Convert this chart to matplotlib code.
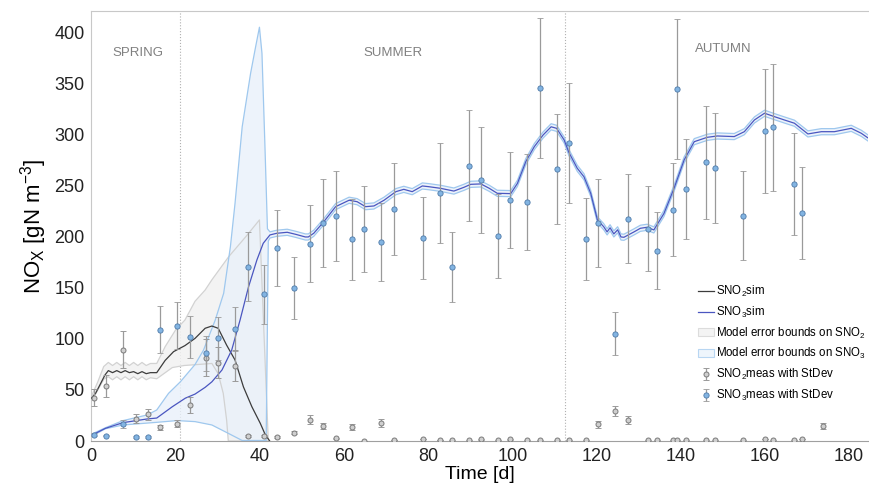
import numpy as np
import matplotlib
matplotlib.use("Agg")
import matplotlib.pyplot as plt  # noqa: E402
from matplotlib.patches import Patch  # noqa: E402

plt.rcParams["font.family"] = ["Liberation Sans", "DejaVu Sans"]
plt.rcParams["mathtext.fontset"] = "custom"
plt.rcParams["mathtext.rm"] = "Liberation Sans"
plt.rcParams["mathtext.it"] = "Liberation Sans"

# --- simulated SNO2 (black line) ---
t_sno2_sim = [0, 1, 2, 3.2, 4, 5, 6, 7, 8, 9, 10, 11, 12, 13, 14, 15.5, 17.5, 19.5,
              22.2, 24.6, 27, 28.6, 30.1, 32.1, 34.1, 36.1, 38.1, 40.1, 41.3, 42.3]
sno2_sim = [42, 47, 55, 64.7, 69, 67, 69, 67, 69, 67, 68, 66, 68, 66, 67, 67, 79, 87.6,
            93.5, 100.6, 110.5, 112.7, 110.5, 94, 79.4, 53, 33.6, 17.3, 6, 0.3]

# model error bounds on SNO2
t_sno2_up = [0, 1.5, 2.9, 4, 5, 6, 7, 8, 9, 10, 11, 12, 13, 14, 15.5, 17.5, 20, 22.2,
             24.6, 27, 28.6, 32.6, 36.6, 39.9, 42]
sno2_up = [44, 58, 73, 77, 74, 77, 74, 77, 74, 77, 74, 77, 74, 76, 76, 92.5, 109, 118.6,
           137, 148, 158, 180.7, 200, 216.7, 0]
t_sno2_lo = [0, 1.5, 3, 4, 5, 6, 7, 8, 9, 10, 11, 12, 13, 14, 15.5, 19.2, 22, 28.6, 30.1,
             31.3, 32.1, 32.5, 42]
sno2_lo = [39, 50, 61, 63, 60, 63, 60, 63, 60, 63, 60, 63, 60, 62, 61, 72, 74, 76, 66,
           46.7, 20.6, 0, 0]

# --- simulated SNO3 (blue line) ---
t_sno3_sim = [0.2, 3.3, 7.5, 13.2, 15.5, 19.2, 22.3, 24.6, 27, 28.6, 31, 33.3, 35.3, 37.3,
              39.3, 40.8, 42.4, 44, 46.5, 48.5, 50.8, 51.5, 52.8, 55.2, 58, 61.2, 63.1,
              65.1, 67.1, 69.5, 72.3, 74.2, 76.2, 78.6, 80.1, 82.9, 86.1, 88.5, 90.1,
              92.5, 94.5, 96.4, 99.6, 101.2, 103.2, 105.2, 107.3, 109.2, 110.5, 112.3,
              113.4, 115.4, 117, 118.6, 120.2, 121.7, 122.5, 123.2, 124.1, 125, 125.8,
              126.5, 128.9, 130.4, 132, 133.6, 136, 138.4, 140.8, 143.2, 146.3, 148.7,
              152.7, 155.1, 157.5, 159.9, 162.2, 164.6, 167, 170.2, 173.4, 176.5, 180.5,
              182.9, 185.2]
sno3_sim = [6, 12.4, 18, 21.6, 22.5, 33.6, 42, 46, 52.6, 58, 69.6, 89, 118.6, 151,
            177.5, 193.8, 202, 203.6, 204.6, 202.6, 200, 200, 203.6, 215, 229.7, 236, 234.6,
            229.7, 230.4, 236, 244.4, 246.7, 244.4, 250, 249.3, 247.7, 245, 248.7, 251.6,
            252, 247.7, 242.8, 242.5, 252.6, 274, 288.5, 300, 308, 306.5, 295,
            283, 267.4, 259, 242.8, 216.7, 210, 205, 209, 203, 207, 200,
            199.7, 205, 208.5, 209.5, 206.9, 223, 247.7, 275.5, 293.4, 297.7, 299,
            298.4, 303.2, 314.7, 321.3, 318, 314.7, 311.5, 301, 303.2, 303.2, 306.5,
            301.6, 295]

# model error bounds on SNO3 (spring part, wide); later the band is narrow
t_sno3_up = [0.2, 3.3, 7.5, 13.2, 15.5, 18.3, 21.1, 24.6, 26.6, 29.4, 31.4, 33, 34.1, 35.8,
             37.8, 39, 39.9, 40.5, 41.2, 41.8]
sno3_up = [7, 13, 20, 25.5, 30.4, 46.7, 58, 75, 89, 118.6, 144.8, 190.5, 233, 308,
           360.5, 386.6, 405.6, 380, 290, 208]
t_sno3_lo = [0.2, 3.3, 7.5, 15.5, 20.3, 24.6, 28.6, 32.5, 35.8, 41.5, 42.0]
sno3_lo = [5, 12, 15.7, 18.3, 20, 19, 15.7, 7.5, 0.5, 0.5, 196]
sno3_band_halfwidth = 3.0

# --- measurements ---
t_meas = [0.5, 3.5, 7.5, 10.5, 13.5, 16.3, 20.4, 23.4, 27.2, 30.1, 34.1, 37.1, 41.0, 44.0,
          48.0, 52.0, 55.0, 58.0, 61.9, 64.8, 68.8, 71.8, 78.7, 82.7, 85.7, 89.6, 92.6,
          96.5, 99.4, 103.5, 106.5, 110.5, 113.4, 117.4, 120.4, 124.4, 127.4, 132.3,
          134.3, 138.2, 139.2, 141.2, 146.1, 148.1, 154.9, 160.0, 162.0, 167.0, 168.9,
          173.7]
sno3_meas = [6, 5, 17, 4, 4, 109, 113, 102, 86, 100.6, 109.5, 171, 144, 189, 150, 193.5,
             214, 220.6, 197.7, 208, 195, 227.5, 198.7, 243, 170.6, 270, 256, 201, 236,
             234.6, 346, 267, 292, 198, 213.4, 105, 218, 208, 186.6, 226.8, 345, 247, 273,
             268, 221, 304, 307.5, 252, 223.5, np.nan]
sno3_sd = [1.5, 0.5, 4, 1, 1, 23, 23, 21, 17, 21, 21.5, 34, 29, 37, 30, 38, 43, 44, 40,
           42, 38, 45, 40, 49, 34, 54, 52, 41, 47, 47, 69, 54, 58.5, 40, 43, 21, 44, 41.5,
           37.5, 45.5, 69, 49, 55, 54, 44, 61, 62, 50, 45, np.nan]
sno2_meas = [42.5, 54, 89.5, 22, 26, 13.4, 17, 35, 81.7, 76.8, 74, 5, 5, 4, 8, 21, 15, 2.6,
             13.4, 0.3, 17.6, 1, 2, 1, 0.5, 0.5, 1.5, 0.5, 1.5, 0.5, 0.5, 0.5, 0.5, 0.5,
             16.3, 29.4, 20.3, 0.5, 0.5, 0.5, 0.5, 0.5, 0.5, 0.5, 0.5, 2, 0.5, 0.5, 2, 14.7]
sno2_sd = [8.5, 10.5, 18, 4, 5, 2.7, 3.6, 8, 18, 15.5, 15, 1, 1, 1, 1.6, 4.4, 3, 0.5, 3,
           0.1, 4, 0.2, 0.4, 0.2, 0.1, 0.1, 0.3, 0.1, 0.3, 0.1, 0.1, 0.1, 0.1, 0.1, 3.3, 5,
           4, 0.1, 0.1, 0.1, 0.1, 0.1, 0.1, 0.1, 0.1, 0.4, 0.1, 0.1, 0.4, 3]

season_bounds = [21, 112.5]
seasons = ["SPRING", "SUMMER", "AUTUMN"]
season_x = [11, 71.7, 150.1]
season_y = [380, 380, 384]

C_NO2 = "#3c3c3c"
C_NO3 = "#4a56c0"
C_NO2_BAND, C_NO2_EDGE = "#f2f2f2", "#d2d2d2"
C_NO3_BAND, C_NO3_EDGE = "#e9f1fa", "#9fc8ee"

fig = plt.figure(figsize=(8.7, 5.0), dpi=100)
ax = fig.add_axes([91.5 / 870, 59 / 500, 777 / 870, 430 / 500])

# SNO2 error band
ax.fill(np.r_[t_sno2_up, t_sno2_lo[::-1]], np.r_[sno2_up, sno2_lo[::-1]],
        color=C_NO2_BAND, alpha=0.85, lw=0, zorder=1)
ax.plot(t_sno2_up, sno2_up, color=C_NO2_EDGE, lw=0.9, zorder=2)
ax.plot(t_sno2_lo, sno2_lo, color=C_NO2_EDGE, lw=0.9, zorder=2)

# SNO3 error band: wide spring part, then narrow band around the simulation
ts3 = np.array(t_sno3_sim)
ys3 = np.array(sno3_sim)
late = ts3 > 42.2
up_t = np.r_[t_sno3_up, ts3[late]]
up_y = np.r_[sno3_up, ys3[late] + sno3_band_halfwidth]
lo_t = np.r_[t_sno3_lo, ts3[late]]
lo_y = np.r_[sno3_lo, ys3[late] - sno3_band_halfwidth]
ax.fill(np.r_[up_t, lo_t[::-1]], np.r_[up_y, lo_y[::-1]],
        color=C_NO3_BAND, alpha=0.8, lw=0, zorder=1)
ax.plot(up_t, up_y, color=C_NO3_EDGE, lw=0.9, zorder=2)
ax.plot(lo_t, lo_y, color=C_NO3_EDGE, lw=0.9, zorder=2)

l2, = ax.plot(t_sno2_sim, sno2_sim, color=C_NO2, lw=0.9, zorder=3)
l3, = ax.plot(t_sno3_sim, sno3_sim, color=C_NO3, lw=0.9, zorder=3)

e2 = ax.errorbar(t_meas, sno2_meas, yerr=sno2_sd, fmt="o", ms=3.6, mfc="#cfcfcf",
                 mec="#7a7a7a", mew=0.7, ecolor="#9a9a9a", elinewidth=0.9,
                 capsize=2.2, capthick=0.8, zorder=4)
e3 = ax.errorbar(t_meas, sno3_meas, yerr=sno3_sd, fmt="o", ms=3.8, mfc="#82b4e2",
                 mec="#4f7aa8", mew=0.6, ecolor="#9a9a9a", elinewidth=0.9,
                 capsize=2.2, capthick=0.8, zorder=5)

for xb in season_bounds:
    ax.axvline(xb, color="#b0b0b0", ls=":", lw=0.8, zorder=0)
for name, sx, sy in zip(seasons, season_x, season_y):
    ax.text(sx, sy, name, ha="center", va="center", fontsize=9.5, color="#808080")

ax.set_xlim(0, 184.6)
ax.set_ylim(0, 421.5)
ax.set_xticks(range(0, 181, 20))
ax.set_yticks(range(0, 401, 50))
ax.tick_params(length=0, labelsize=13, pad=5, labelcolor="#222222")
for side in ("left", "top"):
    ax.spines[side].set_color("#c8c8c8")
ax.spines["bottom"].set_color("#a0a0a0")
ax.spines["right"].set_visible(False)
ax.set_ylabel(r"NO$_\mathregular{X}$ [gN m$^\mathregular{-3}$]", fontsize=16, labelpad=4)
ax.set_xlabel("Time [d]", fontsize=14, labelpad=1)

handles = [l2, l3,
           Patch(facecolor="#f4f4f4", edgecolor="#dcdcdc", lw=0.8),
           Patch(facecolor="#eef5fc", edgecolor="#b8d6f2", lw=0.8),
           e2, e3]
labels = [r"SNO$_2$sim", r"SNO$_3$sim",
          r"Model error bounds on SNO$_2$", r"Model error bounds on SNO$_3$",
          r"SNO$_2$meas with StDev", r"SNO$_3$meas with StDev"]
fig.legend(handles, labels, loc="upper left", bbox_to_anchor=(692 / 870, 1 - 278 / 500),
           frameon=False, fontsize=8.3, handlelength=1.4, handletextpad=0.15,
           labelspacing=0.5, borderpad=0)

fig.savefig("out.png", dpi=100)
